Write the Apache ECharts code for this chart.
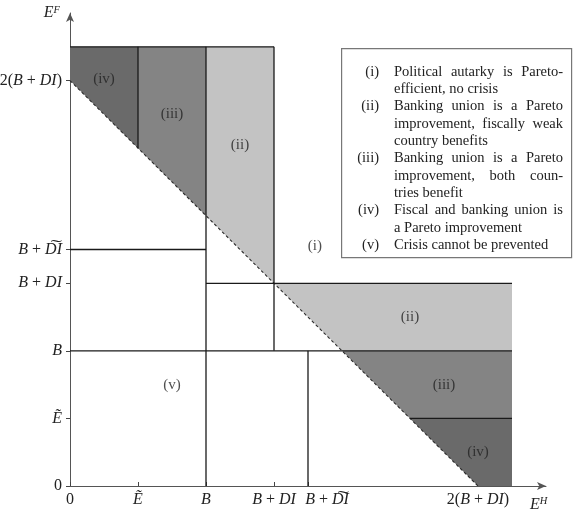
<!DOCTYPE html>
<html>
<head>
<meta charset="utf-8">
<script src="https://cdn.jsdelivr.net/npm/echarts@6/dist/echarts.min.js"></script>
<style>html,body{margin:0;padding:0;background:#fff;}#c{width:573px;height:514px;}</style>
</head>
<body>
<div id="c"></div>
<script>
// ---- data ----
const xTickValues = [0, 1, 2, 3, 3.5, 6];
const xTickLabels = ['0', 'Ẽ', 'B', 'B + DI', 'B + D\u0360I', '2(B + DI)'];
const yTickValues = [0, 1, 2, 3, 3.5, 6];
const yTickLabels = ['0', 'Ẽ', 'B', 'B + DI', 'B + D\u0360I', '2(B + DI)'];

// shaded regions (vertices in axis units) and shade class
const regionShade = ['iv', 'iii', 'ii', 'ii', 'iii', 'iv'];
const regionVerts = [
  [[0, 6], [1, 5], [1, 6.5], [0, 6.5]],
  [[1, 5], [2, 4], [2, 6.5], [1, 6.5]],
  [[2, 4], [3, 3], [3, 6.5], [2, 6.5]],
  [[3, 3], [6.5, 3], [6.5, 2], [4, 2]],
  [[4, 2], [6.5, 2], [6.5, 1], [5, 1]],
  [[5, 1], [6.5, 1], [6.5, 0], [6, 0]]
];
// boundary segments [x1, y1, x2, y2]
const segments = [
  [0, 6.5, 3, 6.5],
  [1, 5, 1, 6.5],
  [2, 0, 2, 6.5],
  [3, 2, 3, 6.5],
  [3.5, 0, 3.5, 2],
  [0, 3.5, 2, 3.5],
  [2, 3, 6.5, 3],
  [0, 2, 6.5, 2],
  [5, 1, 6.5, 1]
];
const diagonal = [[0, 6], [6, 0]];

// region labels
const labelText = ['(i)', '(ii)', '(iii)', '(iv)', '(v)', '(ii)', '(iii)', '(iv)'];
const labelX = [3.6, 2.5, 1.5, 0.5, 1.5, 5.0, 5.5, 6.0];
const labelY = [3.55, 5.05, 5.5, 6.02, 1.5, 2.5, 1.5, 0.5];

// legend text
const legendNums = ['(i)', '', '(ii)', '', '', '(iii)', '', '', '(iv)', '', '(v)'];
const legendLines = [
  'Political autarky is Pareto-',
  'efficient, no crisis',
  'Banking union is a Pareto',
  'improvement, fiscally weak',
  'country benefits',
  'Banking union is a Pareto',
  'improvement, both coun-',
  'tries benefit',
  'Fiscal and banking union is',
  'a Pareto improvement',
  'Crisis cannot be prevented'
];
const legendLastLine = [false, true, false, false, true, false, false, true, false, true, true];

// ---- styles ----
const FONT = 'Liberation Serif';
const INK = '#222';
const shadeColor = { ii: '#c3c3c3', iii: '#848484', iv: '#6a6a6a' };
const TICK_FS = 16;
const LEG_FS = 14.5;
const LEG_X0 = 394, LEG_X1 = 563, LEG_NUM_X = 379, LEG_Y0 = 72, LEG_DY = 17.3;

function mathRich(s) {
  let out = '', cur = null, buf = '';
  const flush = () => { if (buf) out += '{' + cur + '|' + buf + '}'; buf = ''; };
  for (const ch of s) {
    const isLetter = /[A-Za-zẼ\u0360]/.test(ch);
    const st = isLetter ? 'it' : 'rm';
    if (st !== cur) { flush(); cur = st; }
    buf += ch;
  }
  flush();
  return out;
}
const richBase = {
  it: { fontFamily: FONT, fontStyle: 'italic', fontSize: TICK_FS, color: INK },
  rm: { fontFamily: FONT, fontSize: TICK_FS, color: INK },
  sp: { width: 38, fontSize: TICK_FS }
};

// justified legend text: each word placed as its own text element
const mctx = document.createElement('canvas').getContext('2d');
mctx.font = LEG_FS + 'px "' + FONT + '"';
const legendGraphics = [];
legendLines.forEach((line, i) => {
  const y = LEG_Y0 + i * LEG_DY;
  const words = line.split(' ');
  const widths = words.map(w => mctx.measureText(w).width);
  const total = widths.reduce((a, b) => a + b, 0);
  const space = mctx.measureText(' ').width;
  let gap = space;
  if (!legendLastLine[i] && words.length > 1) gap = Math.max(space, (LEG_X1 - LEG_X0 - total) / (words.length - 1));
  let x = LEG_X0;
  words.forEach((w, k) => {
    legendGraphics.push({
      type: 'text', x: x, y: y, z: 11,
      style: { text: w, fontFamily: FONT, fontSize: LEG_FS, fill: INK, verticalAlign: 'middle', textVerticalAlign: 'middle' }
    });
    x += widths[k] + gap;
  });
  if (legendNums[i]) {
    legendGraphics.push({
      type: 'text', x: LEG_NUM_X, y: y, z: 11,
      style: { text: legendNums[i], fontFamily: FONT, fontSize: LEG_FS, fill: INK, align: 'right', textAlign: 'right', verticalAlign: 'middle', textVerticalAlign: 'middle' }
    });
  }
});

const chart = echarts.init(document.getElementById('c'), null, { renderer: 'canvas' });

const option = {
  animation: false,
  backgroundColor: '#fff',
  grid: { left: 70, right: 27, top: 13, bottom: 28, containLabel: false, outerBoundsMode: 'none' },
  xAxis: {
    type: 'value', min: 0, max: 7,
    splitLine: { show: false },
    axisLine: { show: true, lineStyle: { color: '#555', width: 1 }, symbol: ['none', 'arrow'], symbolSize: [6, 9] },
    axisTick: { show: true, inside: true, length: 4, customValues: xTickValues, lineStyle: { color: '#444' } },
    axisLabel: {
      show: true, margin: 6, customValues: xTickValues,
      formatter: function (v) {
        const i = xTickValues.indexOf(v);
        if (i < 0) return '';
        const s = mathRich(xTickLabels[i]);
        return xTickLabels[i].indexOf('\u0360') >= 0 ? '{sp|}' + s : s;
      },
      rich: richBase
    },
    name: '{it|E}{sup|H}', nameLocation: 'end', nameGap: -16,
    nameTextStyle: {
      verticalAlign: 'top', padding: [10, 0, 0, 0],
      rich: {
        it: { fontFamily: FONT, fontStyle: 'italic', fontSize: 16, color: INK },
        sup: { fontFamily: FONT, fontStyle: 'italic', fontSize: 10.5, color: INK, verticalAlign: 'top', padding: [0, 0, 6, 0] }
      }
    }
  },
  yAxis: {
    type: 'value', min: 0, max: 7,
    splitLine: { show: false },
    axisLine: { show: true, lineStyle: { color: '#555', width: 1 }, symbol: ['none', 'arrow'], symbolSize: [6, 9] },
    axisTick: { show: true, inside: false, length: 4, customValues: yTickValues, lineStyle: { color: '#444' } },
    axisLabel: {
      show: true, margin: 8, customValues: yTickValues,
      formatter: function (v) {
        const i = yTickValues.indexOf(v);
        return i < 0 ? '' : mathRich(yTickLabels[i]);
      },
      rich: richBase
    },
    name: '{it|E}{sup|F}', nameLocation: 'end', nameGap: 0,
    nameTextStyle: {
      align: 'right', verticalAlign: 'middle', padding: [0, 10, 0, 0],
      rich: {
        it: { fontFamily: FONT, fontStyle: 'italic', fontSize: 16, color: INK },
        sup: { fontFamily: FONT, fontStyle: 'italic', fontSize: 10.5, color: INK, verticalAlign: 'top', padding: [0, 0, 6, 0] }
      }
    }
  },
  series: [
    {
      type: 'custom', coordinateSystem: 'cartesian2d', z: 1, silent: true,
      data: regionVerts.map((v, i) => [i]),
      encode: { x: [], y: [] },
      renderItem: function (params, api) {
        const i = api.value(0);
        const pts = regionVerts[i].map(p => api.coord(p));
        return { type: 'polygon', shape: { points: pts }, style: { fill: shadeColor[regionShade[i]], stroke: null } };
      }
    },
    {
      type: 'line', z: 2, silent: true, symbol: 'none',
      data: diagonal,
      lineStyle: { color: '#2a2a2a', width: 1.1, type: [3, 2.5] }
    },
    {
      type: 'custom', coordinateSystem: 'cartesian2d', z: 3, silent: true,
      data: segments,
      encode: { x: [0, 2], y: [1, 3] },
      renderItem: function (params, api) {
        const a = api.coord([api.value(0), api.value(1)]);
        const b = api.coord([api.value(2), api.value(3)]);
        return { type: 'line', shape: { x1: a[0], y1: a[1], x2: b[0], y2: b[1] }, style: { stroke: '#1a1a1a', lineWidth: 1.3 } };
      }
    },
    {
      type: 'scatter', z: 4, silent: true, symbolSize: 0,
      data: labelText.map((t, i) => ({ name: t, value: [labelX[i], labelY[i]] })),
      label: { show: true, position: 'inside', formatter: '{b}', fontFamily: FONT, fontSize: 15, color: INK }
    }
  ],
  graphic: [
    {
      type: 'rect', left: 341, top: 48, z: 10,
      shape: { width: 230, height: 209 },
      style: { fill: '#fff', stroke: '#777', lineWidth: 1.2 }
    }
  ].concat(legendGraphics)
};
chart.setOption(option);
</script>
</body>
</html>
